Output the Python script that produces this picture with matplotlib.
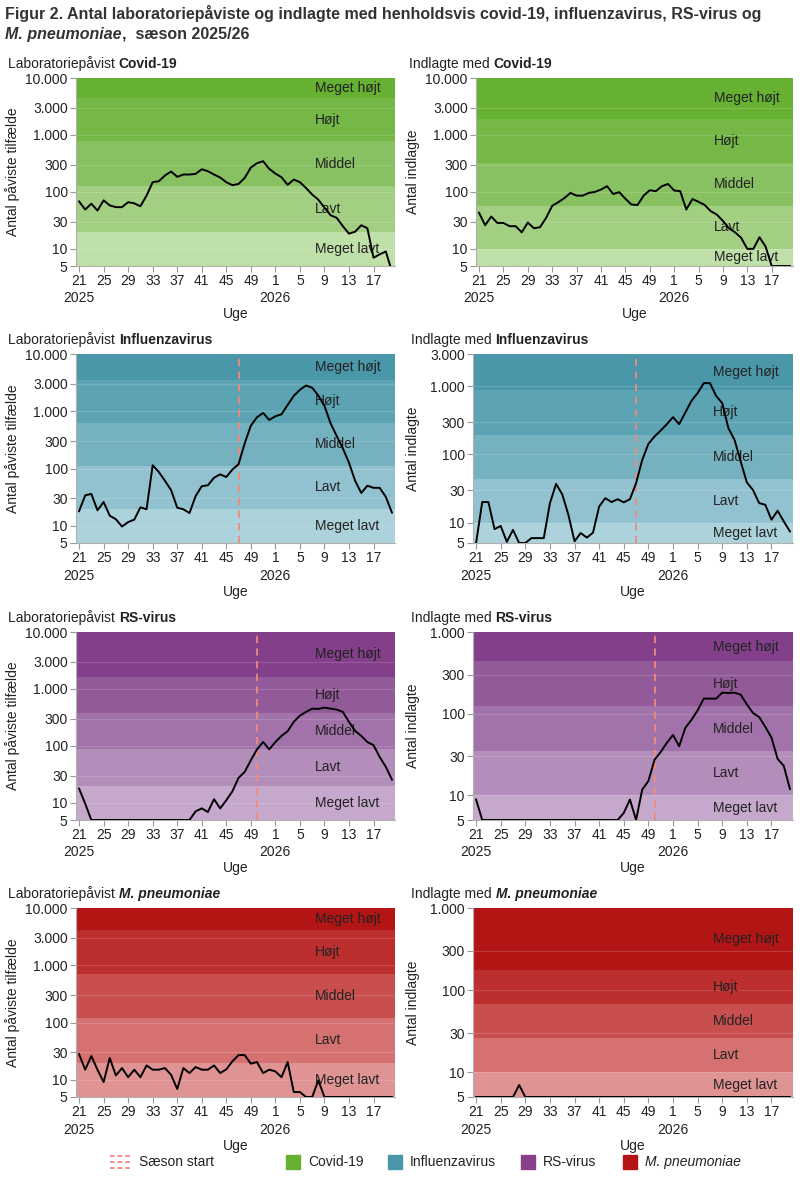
import matplotlib
matplotlib.use("Agg")
import matplotlib.pyplot as plt
import matplotlib.transforms as mtransforms
from matplotlib.lines import Line2D
from matplotlib.patches import Rectangle
from matplotlib.ticker import FixedLocator, FuncFormatter, NullLocator

plt.rcParams['font.family'] = ['Liberation Sans', 'DejaVu Sans']

# ---- data -------------------------------------------------------------
weeks = list(range(21, 53)) + list(range(1, 21))
tick_weeks = [21, 25, 29, 33, 37, 41, 45, 49, 1, 5, 9, 13, 17]
year_ticks = {21: '2025', 1: '2026'}
levels = ['Meget lavt', 'Lavt', 'Middel', 'Højt', 'Meget højt']

covid_lab = [68, 49, 62, 47, 71, 58, 54, 54, 66, 63, 56, 86, 148, 154, 194, 228,
             184, 202, 202, 207, 250, 231, 202, 179, 148, 131, 138, 176, 268, 319, 346, 254,
             210, 181, 133, 165, 148, 117, 90, 73, 53, 39, 35, 25, 18.5, 20, 26, 23,
             7, 8, 9, 4]
covid_adm = [43, 26, 37, 28.5, 28.5, 25, 25, 19.5, 29, 23, 24, 35, 57, 66, 78, 96,
             86, 86, 96, 100, 110, 126, 92, 99, 76, 60, 59, 86, 107, 103, 126, 138,
             106, 103, 49, 75, 67, 59, 46, 40, 31, 23, 19.5, 15.6, 10, 10, 16, 11,
             5, 5, 5, 5]
flu_lab = [18, 34, 36, 18.6, 26, 15, 13, 9.7, 11.6, 12.8, 21, 19.4, 114, 87, 61, 42,
           20.7, 19.4, 16.7, 33, 49, 51, 69, 79, 71, 96, 119, 275, 560, 784, 935, 705,
           818, 885, 1290, 1860, 2370, 2820, 2570, 1880, 1240, 616, 369, 224, 126, 61, 37.4, 50,
           46, 46, 32, 17]
flu_adm = [5, 20, 20, 8, 8.9, 5.2, 7.8, 5, 5, 5.9, 5.9, 5.9, 19.2, 37, 26, 13,
           5.3, 7, 6, 7.1, 17.2, 22.8, 20, 22, 19.8, 22, 38, 83, 143, 184, 225, 279,
           354, 279, 414, 614, 800, 1120, 1120, 728, 568, 244, 164, 79, 38.8, 30, 19.3, 18.2,
           11, 14.9, 10.4, 7.4]
rsv_lab = [17.8, 9.7, 5, 5, 5, 5, 5, 5, 5, 5, 5, 5, 5, 5, 5, 5,
           5, 5, 5, 7.1, 8, 6.9, 11.6, 8, 11.1, 16, 27.5, 35, 56, 87, 117, 87,
           117, 150, 181, 264, 340, 395, 451, 446, 470, 451, 434, 395, 264, 183, 150, 117,
           103, 64, 43, 25.6]
rsv_adm = [8.9, 5, 5, 5, 5, 5, 5, 5, 5, 5, 5, 5, 5, 5, 5, 5,
           5, 5, 5, 5, 5, 5, 5, 5, 6.1, 8.9, 5, 11.8, 15, 27.3, 34, 44,
           55, 40, 67, 84, 110, 153, 153, 153, 181, 179, 181, 171, 130, 102, 91, 69,
           51, 28, 23, 12]
mpn_lab = [28, 15, 26, 15, 9.1, 24, 11.9, 16, 11.1, 15, 11.1, 17.8, 15, 15, 16, 12.2,
           6.9, 16, 13.1, 16.7, 15, 15, 17.8, 13.1, 15.2, 21, 27, 27, 19.1, 20.4, 13.1, 15,
           14, 11.1, 20.4, 6.1, 6.1, 5, 5, 9.7, 5, 5, 5, 5, 5, 5, 5, 5,
           5, 5, 5, 5]
mpn_adm = [5, 5, 5, 5, 5, 5, 5, 7, 5, 5, 5, 5, 5, 5, 5, 5,
           5, 5, 5, 5, 5, 5, 5, 5, 5, 5, 5, 5, 5, 5, 5, 5,
           5, 5, 5, 5, 5, 5, 5, 5, 5, 5, 5, 5, 5, 5, 5, 5,
           5, 5, 5, 5]

# level thresholds (lower bounds of Lavt, Middel, Højt, Meget højt)
covid_lab_thr = [20, 125, 770, 4500]
covid_adm_thr = [10, 57, 320, 1920]
flu_lab_thr = [20, 112, 620, 3550]
flu_adm_thr = [10, 44, 195, 900]
rsv_lab_thr = [20, 88, 375, 1630]
rsv_adm_thr = [10, 35, 124, 440]
mpn_lab_thr = [20, 120, 700, 4150]
mpn_adm_thr = [10, 26, 68, 177]

flu_season_start = 47
rsv_season_start = 50

covid_colors = ['#bfe0a8', '#a2cf82', '#88c161', '#75b847', '#66b132']
flu_colors = ['#acd2db', '#92c2cf', '#76b1c0', '#5ca4b4', '#4a97aa']
rsv_colors = ['#c6a8cc', '#b48eba', '#a273aa', '#935a99', '#843f8a']
mpn_colors = ['#e09393', '#d67171', '#c94f4f', '#bd2e2e', '#b31515']

W, H = 800, 1180
TXT = '#222222'
GRID = '#999999'


def fig_box(x0, y0, x1, y1):
    return [x0 / W, 1 - y1 / H, (x1 - x0) / W, (y1 - y0) / H]


def thousands(v, pos):
    return f'{int(round(v)):,}'.replace(',', '.')


def draw_panel(fig, box, values, thr, colors, ymax, prefix, name, ylabel,
               title_x, ylabel_x, italic=False, season=None):
    ax = fig.add_axes(fig_box(*box))
    x = list(range(len(weeks)))
    ymin = 5
    edges = [ymin] + thr + [ymax]
    for i in range(5):
        ax.axhspan(edges[i], edges[i + 1], color=colors[i], lw=0, zorder=0)
    ax.set_yscale('log')
    ax.set_ylim(ymin, ymax)
    ax.set_xlim(-0.5, len(weeks) - 0.5)

    yt = [t for t in [5, 10, 30, 100, 300, 1000, 3000, 10000] if t <= ymax]
    ax.yaxis.set_major_locator(FixedLocator(yt))
    ax.yaxis.set_minor_locator(NullLocator())
    ax.yaxis.set_major_formatter(FuncFormatter(thousands))
    for t in yt[1:-1]:
        ax.axhline(t, color='white', lw=0.8, alpha=0.15, zorder=1)

    xt = [weeks.index(w) for w in tick_weeks]
    ax.set_xticks(xt)
    ax.set_xticklabels([str(w) for w in tick_weeks])
    trans = mtransforms.blended_transform_factory(ax.transData, ax.transAxes)
    for w, yr in year_ticks.items():
        ax.text(weeks.index(w), -0.135, yr, transform=trans, ha='center',
                va='top', fontsize=10, color=TXT)
    ax.text(0.5, -0.22, 'Uge', transform=ax.transAxes, ha='center', va='top',
            fontsize=10, color=TXT)

    ax.tick_params(axis='both', labelsize=10, colors=GRID, labelcolor=TXT,
                   length=4, width=0.8, pad=2)
    for s in ['top', 'right']:
        ax.spines[s].set_visible(False)
    for s in ['left', 'bottom']:
        ax.spines[s].set_color('#b0b0b0')
        ax.spines[s].set_linewidth(0.8)

    # level labels
    for i, lab in enumerate(levels):
        yc = (edges[i] * edges[i + 1]) ** 0.5
        ax.text(38.5, yc, lab, ha='left', va='center', fontsize=10,
                color=TXT, zorder=2)

    if season is not None:
        ax.axvline(weeks.index(season), color='#ef8a7e', lw=1.3,
                   ls=(0, (4, 3)), zorder=3)

    ax.plot(x, values, color='black', lw=1.4, zorder=4, clip_on=True)

    # ylabel: x given in pixels for the right edge of the rotated text
    ax.set_ylabel(ylabel, fontsize=10, color=TXT)
    ax.yaxis.set_label_coords((ylabel_x - box[0]) / (box[2] - box[0]), 0.5)

    # panel title: normal prefix + bold name
    yt_pix = box[1] - 14
    t1 = fig.text(title_x / W, 1 - yt_pix / H, prefix + ' ', ha='left',
                  va='center', fontsize=10, color=TXT)
    ax.annotate(name, xy=(1, 0.5), xycoords=t1, ha='left', va='center',
                fontsize=10, fontweight='bold', color=TXT,
                fontstyle='italic' if italic else 'normal',
                annotation_clip=False)
    return ax


fig = plt.figure(figsize=(W / 100, H / 100), dpi=100)

rows = [(78, 266), (354, 543), (632, 820), (908, 1097)]
left_x = (76, 395)
right_x = (473, 793)

lab_ylabel = 'Antal påviste tilfælde'
adm_ylabel = 'Antal indlagte'

draw_panel(fig, (left_x[0], rows[0][0], left_x[1], rows[0][1]), covid_lab,
           covid_lab_thr, covid_colors, 10000, 'Laboratoriepåvist', 'Covid-19',
           lab_ylabel, 8, 20)
draw_panel(fig, (476, rows[0][0], right_x[1], rows[0][1]), covid_adm,
           covid_adm_thr, covid_colors, 10000, 'Indlagte med', 'Covid-19',
           adm_ylabel, 409, 420)
draw_panel(fig, (left_x[0], rows[1][0], left_x[1], rows[1][1]), flu_lab,
           flu_lab_thr, flu_colors, 10000, 'Laboratoriepåvist', 'Influenzavirus',
           lab_ylabel, 8, 20, season=flu_season_start)
draw_panel(fig, (right_x[0], rows[1][0], right_x[1], rows[1][1]), flu_adm,
           flu_adm_thr, flu_colors, 3000, 'Indlagte med', 'Influenzavirus',
           adm_ylabel, 411, 420, season=flu_season_start)
draw_panel(fig, (left_x[0], rows[2][0], left_x[1], rows[2][1]), rsv_lab,
           rsv_lab_thr, rsv_colors, 10000, 'Laboratoriepåvist', 'RS-virus',
           lab_ylabel, 8, 20, season=rsv_season_start)
draw_panel(fig, (right_x[0], rows[2][0], right_x[1], rows[2][1]), rsv_adm,
           rsv_adm_thr, rsv_colors, 1000, 'Indlagte med', 'RS-virus',
           adm_ylabel, 411, 420, season=rsv_season_start)
draw_panel(fig, (left_x[0], rows[3][0], left_x[1], rows[3][1]), mpn_lab,
           mpn_lab_thr, mpn_colors, 10000, 'Laboratoriepåvist', 'M. pneumoniae',
           lab_ylabel, 8, 20, italic=True)
draw_panel(fig, (right_x[0], rows[3][0], right_x[1], rows[3][1]), mpn_adm,
           mpn_adm_thr, mpn_colors, 1000, 'Indlagte med', 'M. pneumoniae',
           adm_ylabel, 411, 420, italic=True)

# ---- title ------------------------------------------------------------
fig.text(5 / W, 1 - 14 / H,
         'Figur 2. Antal laboratoriepåviste og indlagte med henholdsvis '
         'covid-19, influenzavirus, RS-virus og',
         ha='left', va='center', fontsize=11.5, fontweight='bold', color='#333333')
tt = fig.text(5 / W, 1 - 34 / H, 'M. pneumoniae', ha='left', va='center',
              fontsize=11.5, fontweight='bold', fontstyle='italic', color='#333333')
fig.axes[0].annotate(',  sæson 2025/26', xy=(1, 0.5), xycoords=tt, ha='left',
                     va='center', fontsize=11.5, fontweight='bold',
                     color='#333333', annotation_clip=False)

# ---- legend -----------------------------------------------------------
ly = 1162
for dy in (-6, 0, 6):
    fig.add_artist(Line2D([110 / W, 131 / W], [1 - (ly + dy) / H] * 2,
                          color='#f07070', lw=1.1, ls=(0, (3, 2))))
fig.text(139 / W, 1 - ly / H, 'Sæson start', ha='left', va='center',
         fontsize=10, color=TXT)
legend_items = [(286, 'Covid-19', '#66b032'), (388, 'Influenzavirus', '#4a97aa'),
                (521, 'RS-virus', '#864189'), (623, 'M. pneumoniae', '#b41414')]
for x0, lab, col in legend_items:
    fig.add_artist(Rectangle((x0 / W, 1 - (ly + 7) / H), 14 / W, 14 / H,
                             color=col, transform=fig.transFigure))
    fig.text((x0 + 22) / W, 1 - ly / H, lab, ha='left', va='center',
             fontsize=10, color=TXT,
             fontstyle='italic' if lab.startswith('M.') else 'normal')

fig.savefig('out.png', dpi=100)
